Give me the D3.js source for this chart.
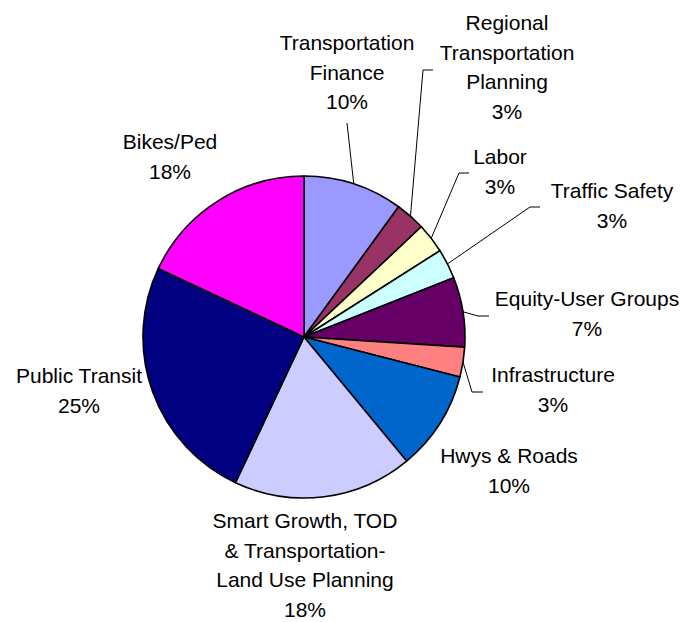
<!DOCTYPE html>
<html>
<head>
<meta charset="utf-8">
<script src="https://cdn.jsdelivr.net/npm/d3@7/dist/d3.min.js"></script>
<style>
  html, body { margin: 0; padding: 0; background: #fff; }
  svg { display: block; }
  text { font-family: "Liberation Sans", Arial, sans-serif; fill: #000; }
</style>
</head>
<body>
<svg id="chart" width="685" height="622"></svg>
<script>
// Topic shares, clockwise from 12 o'clock
const categories = [
  "Transportation Finance",
  "Regional Transportation Planning",
  "Labor",
  "Traffic Safety",
  "Equity-User Groups",
  "Infrastructure",
  "Hwys & Roads",
  "Smart Growth, TOD & Transportation-Land Use Planning",
  "Public Transit",
  "Bikes/Ped"
];
const shares = [10, 3, 3, 3, 7, 3, 10, 18, 25, 18];
const labelLines = [
  ["Transportation", "Finance"],
  ["Regional", "Transportation", "Planning"],
  ["Labor"],
  ["Traffic Safety"],
  ["Equity-User Groups"],
  ["Infrastructure"],
  ["Hwys & Roads"],
  ["Smart Growth, TOD", "& Transportation-", "Land Use Planning"],
  ["Public Transit"],
  ["Bikes/Ped"]
];
const colors = ["#9999FF", "#993366", "#FFFFCC", "#CCFFFF", "#660066",
                "#FF8080", "#0066CC", "#CCCCFF", "#000080", "#FF00FF"];

// Label placement: text centre x, first baseline y; optional leader elbow
const labelLayout = [
  { x: 347, y: 50,  leader: [[347, 123]] },
  { x: 507, y: 30,  leader: [[433, 70], [423, 70]] },
  { x: 500, y: 164, leader: [[469, 173], [459, 173]] },
  { x: 612, y: 198, leader: [[540, 207], [530, 207]] },
  { x: 587, y: 306, leader: [[489, 316], [478, 316]] },
  { x: 553, y: 382, leader: [[483, 392], [472, 392]] },
  { x: 509, y: 463, leader: null },
  { x: 305, y: 528, leader: null },
  { x: 79,  y: 383, leader: null },
  { x: 170, y: 149, leader: null }
];

const cx = 304, cy = 337, radius = 161;
const lineGap = 29.7;

const svg = d3.select("#chart");
const g = svg.append("g").attr("transform", `translate(${cx},${cy})`);

const data = categories.map((c, i) => ({ name: c, value: shares[i], i }));
const pie = d3.pie().value(d => d.value).sort(null).startAngle(0).endAngle(2 * Math.PI);
const arcs = pie(data);
const arc = d3.arc().innerRadius(0).outerRadius(radius);

g.selectAll("path.slice")
  .data(arcs)
  .join("path")
  .attr("class", "slice")
  .attr("d", arc)
  .attr("fill", d => colors[d.data.i])
  .attr("stroke", "#000")
  .attr("stroke-width", 1.6)
  .attr("stroke-linejoin", "round");

// Leader lines from label elbows to the slice edge
const edgeArc = d3.arc().innerRadius(radius).outerRadius(radius);
const line = d3.line();
arcs.forEach(a => {
  const lay = labelLayout[a.data.i];
  if (!lay.leader) return;
  const mid = (a.startAngle + a.endAngle) / 2;
  const edge = [cx + radius * Math.sin(mid), cy - radius * Math.cos(mid)];
  const pts = lay.leader.concat([edge]);
  svg.append("path")
    .attr("d", line(pts))
    .attr("fill", "none")
    .attr("stroke", "#000")
    .attr("stroke-width", 1);
});

// Category and percentage labels
const fmt = v => d3.format(".0f")(v) + "%";
arcs.forEach(a => {
  const lay = labelLayout[a.data.i];
  const lines = labelLines[a.data.i].concat([fmt(a.data.value)]);
  const t = svg.append("text")
    .attr("text-anchor", "middle")
    .attr("font-size", 21);
  lines.forEach((s, k) => {
    t.append("tspan")
      .attr("x", lay.x)
      .attr("y", lay.y + k * lineGap)
      .text(s);
  });
});
</script>
</body>
</html>
